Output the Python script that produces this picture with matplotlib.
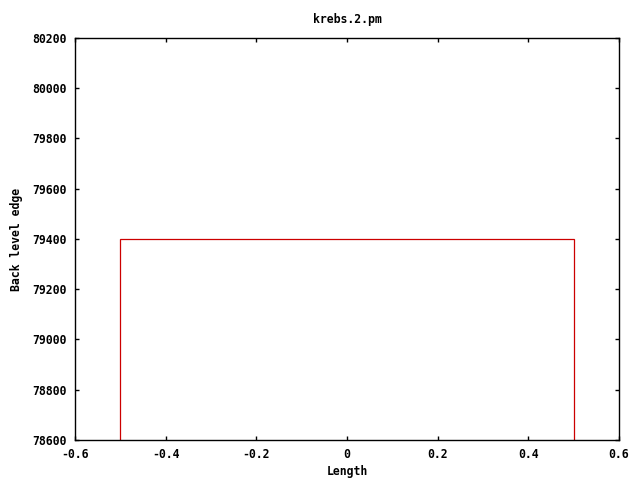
import matplotlib
matplotlib.use("Agg")
import matplotlib.pyplot as plt

categories = [0.0]
values = [79400]
xticks = [-0.6, -0.4, -0.2, 0, 0.2, 0.4, 0.6]
xticklabels = ["-0.6", "-0.4", "-0.2", "0", "0.2", "0.4", "0.6"]
yticks = [78600, 78800, 79000, 79200, 79400, 79600, 79800, 80000, 80200]

plt.rcParams['font.family'] = ['DejaVu Sans Mono']
plt.rcParams['font.weight'] = 'bold'
plt.rcParams['font.size'] = 8.3

fig = plt.figure(figsize=(6.4, 4.8), dpi=100)
ax = fig.add_axes([75/640, 1-440/480, (619-75)/640, (440-38)/480])
ax.bar(categories, values, width=1.0, fill=False, edgecolor='#cc0000', linewidth=0.9)
ax.set_xlim(-0.6, 0.6)
ax.set_ylim(78600, 80200)
ax.set_xticks(xticks)
ax.set_xticklabels(xticklabels)
ax.set_yticks(yticks)
ax.set_yticklabels([str(v) for v in yticks])
ax.tick_params(direction='in', top=True, right=True, length=3, width=1, pad=6)
for s in ax.spines.values():
    s.set_linewidth(1)
ax.set_xlabel("Length", fontweight='bold', labelpad=3)
ax.set_ylabel("Back level edge", fontweight='bold', labelpad=7)
fig.text(347/640, 1-19/480, "krebs.2.pm", ha='center', va='center', fontweight='bold', fontsize=8.3)
fig.savefig("out.png", dpi=100)
